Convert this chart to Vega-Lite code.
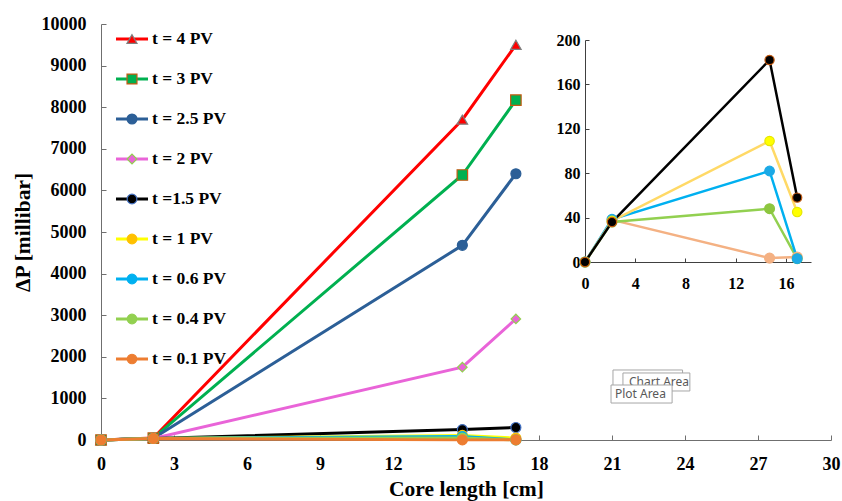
{
  "$schema": "https://vega.github.io/schema/vega-lite/v6.json",
  "width": 730,
  "height": 416,
  "autosize": "none",
  "padding": {"left": 101, "top": 24, "right": 11, "bottom": 61},
  "background": "white",
  "config": {"view": {"stroke": null}, "axis": {"grid": false}, "font": "Liberation Serif"},
  "datasets": {
    "main": [
      {"series": "t = 4 PV", "x": 0, "y": 0}, {"series": "t = 4 PV", "x": 2.15, "y": 50}, {"series": "t = 4 PV", "x": 14.85, "y": 7700}, {"series": "t = 4 PV", "x": 17.05, "y": 9500},
      {"series": "t = 3 PV", "x": 0, "y": 0}, {"series": "t = 3 PV", "x": 2.15, "y": 45}, {"series": "t = 3 PV", "x": 14.85, "y": 6370}, {"series": "t = 3 PV", "x": 17.05, "y": 8170},
      {"series": "t = 2.5 PV", "x": 0, "y": 0}, {"series": "t = 2.5 PV", "x": 2.15, "y": 40}, {"series": "t = 2.5 PV", "x": 14.85, "y": 4680}, {"series": "t = 2.5 PV", "x": 17.05, "y": 6400},
      {"series": "t = 2 PV", "x": 0, "y": 0}, {"series": "t = 2 PV", "x": 2.15, "y": 38}, {"series": "t = 2 PV", "x": 14.85, "y": 1750}, {"series": "t = 2 PV", "x": 17.05, "y": 2910},
      {"series": "t =1.5 PV", "x": 0, "y": 0}, {"series": "t =1.5 PV", "x": 2.15, "y": 36}, {"series": "t =1.5 PV", "x": 14.85, "y": 250}, {"series": "t =1.5 PV", "x": 17.05, "y": 300},
      {"series": "t = 1 PV", "x": 0, "y": 0}, {"series": "t = 1 PV", "x": 2.15, "y": 37}, {"series": "t = 1 PV", "x": 14.85, "y": 109}, {"series": "t = 1 PV", "x": 17.05, "y": 45},
      {"series": "t = 0.6 PV", "x": 0, "y": 0}, {"series": "t = 0.6 PV", "x": 2.15, "y": 38}, {"series": "t = 0.6 PV", "x": 14.85, "y": 82}, {"series": "t = 0.6 PV", "x": 17.05, "y": 3},
      {"series": "t = 0.4 PV", "x": 0, "y": 0}, {"series": "t = 0.4 PV", "x": 2.15, "y": 36}, {"series": "t = 0.4 PV", "x": 14.85, "y": 48}, {"series": "t = 0.4 PV", "x": 17.05, "y": 3},
      {"series": "t = 0.1 PV", "x": 0, "y": 0}, {"series": "t = 0.1 PV", "x": 2.15, "y": 38}, {"series": "t = 0.1 PV", "x": 14.85, "y": 3}, {"series": "t = 0.1 PV", "x": 17.05, "y": 4}
    ],
    "legendItems": [
      {"series": "t = 4 PV"}, {"series": "t = 3 PV"}, {"series": "t = 2.5 PV"}, {"series": "t = 2 PV"}, {"series": "t =1.5 PV"},
      {"series": "t = 1 PV"}, {"series": "t = 0.6 PV"}, {"series": "t = 0.4 PV"}, {"series": "t = 0.1 PV"}
    ],
    "inset": [
      {"series": "0.1", "x": 0, "y": 0}, {"series": "0.1", "x": 2.15, "y": 38}, {"series": "0.1", "x": 14.7, "y": 3.5}, {"series": "0.1", "x": 16.9, "y": 4.5},
      {"series": "0.4", "x": 0, "y": 0}, {"series": "0.4", "x": 2.15, "y": 36}, {"series": "0.4", "x": 14.7, "y": 48}, {"series": "0.4", "x": 16.9, "y": 3},
      {"series": "0.6", "x": 0, "y": 0}, {"series": "0.6", "x": 2.15, "y": 38.5}, {"series": "0.6", "x": 14.7, "y": 82}, {"series": "0.6", "x": 16.9, "y": 3},
      {"series": "1", "x": 0, "y": 0}, {"series": "1", "x": 2.15, "y": 37}, {"series": "1", "x": 14.7, "y": 109}, {"series": "1", "x": 16.9, "y": 45},
      {"series": "1.5", "x": 0, "y": 0}, {"series": "1.5", "x": 2.15, "y": 36}, {"series": "1.5", "x": 14.7, "y": 182}, {"series": "1.5", "x": 16.9, "y": 58}
    ],
    "boxesBack": [{"x": 21.04, "xe": 23.9, "y": 1250, "ye": 1683}, {"x": 21.45, "xe": 24.2, "y": 1178, "ye": 1611}],
    "labelBack": [{"x": 21.7, "y": 1405, "label": "Chart Area"}],
    "boxFront": [{"x": 20.96, "xe": 23.47, "y": 889, "ye": 1322}],
    "labelFront": [{"x": 21.12, "y": 1110, "label": "Plot Area"}]
  },
  "layer": [
    {
      "data": {"name": "main"},
      "mark": {"type": "line", "strokeWidth": 3},
      "encoding": {
        "x": {"field": "x", "type": "quantitative",
          "scale": {"domain": [0, 30], "nice": false, "zero": false},
          "axis": {"orient": "bottom", "values": [0, 3, 6, 9, 12, 15, 18, 21, 24, 27, 30], "tickSize": -5, "labelPadding": 20,
            "labelFont": "Liberation Serif", "labelFontSize": 18, "labelFontWeight": "bold", "labelColor": "#000000",
            "domainColor": "#6F6F6F", "tickColor": "#6F6F6F", "labelFlush": false, "labelOverlap": false,
            "title": "Core length [cm]", "titleFont": "Liberation Serif", "titleFontSize": 21.5, "titleFontWeight": "bold", "titleColor": "#000000", "titlePadding": 5}},
        "y": {"field": "y", "type": "quantitative",
          "scale": {"domain": [0, 10000], "nice": false},
          "axis": {"orient": "left", "values": [0, 1000, 2000, 3000, 4000, 5000, 6000, 7000, 8000, 9000, 10000], "format": "d", "tickSize": -5, "labelPadding": 20,
            "labelFont": "Liberation Serif", "labelFontSize": 18, "labelFontWeight": "bold", "labelColor": "#000000",
            "domainColor": "#6F6F6F", "tickColor": "#6F6F6F", "labelFlush": false, "labelOverlap": false,
            "title": "ΔP [millibar]", "titleFont": "Liberation Serif", "titleFontSize": 21.5, "titleFontWeight": "bold", "titleColor": "#000000", "titlePadding": 7}},
        "color": {"field": "series", "type": "nominal",
          "scale": {"domain": ["t = 4 PV", "t = 3 PV", "t = 2.5 PV", "t = 2 PV", "t =1.5 PV", "t = 1 PV", "t = 0.6 PV", "t = 0.4 PV", "t = 0.1 PV"],
            "range": ["#FF0000", "#00B050", "#2C5F97", "#E964D8", "#000000", "#FFFF00", "#00B0F0", "#92D050", "#ED7D31"]},
          "legend": null}
      }
    },
    {
      "data": {"name": "main"},
      "transform": [{"filter": "datum.series === 't = 4 PV'"}],
      "mark": {"type": "point", "shape": "triangle-up", "filled": true, "size": 110, "fill": "#FF0000", "stroke": "#7F7F7F", "strokeWidth": 1.2, "opacity": 1},
      "encoding": {
        "x": {"field": "x", "type": "quantitative", "scale": {"domain": [0, 30], "nice": false, "zero": false}, "axis": null},
        "y": {"field": "y", "type": "quantitative", "scale": {"domain": [0, 10000], "nice": false}, "axis": null}
      }
    },
    {
      "data": {"name": "main"},
      "transform": [{"filter": "datum.series === 't = 3 PV'"}],
      "mark": {"type": "point", "shape": "square", "filled": true, "size": 110, "fill": "#00B050", "stroke": "#C55A11", "strokeWidth": 1.2, "opacity": 1},
      "encoding": {
        "x": {"field": "x", "type": "quantitative", "scale": {"domain": [0, 30], "nice": false, "zero": false}, "axis": null},
        "y": {"field": "y", "type": "quantitative", "scale": {"domain": [0, 10000], "nice": false}, "axis": null}
      }
    },
    {
      "data": {"name": "main"},
      "transform": [{"filter": "datum.series === 't = 2 PV'"}],
      "mark": {"type": "point", "shape": "diamond", "filled": true, "size": 90, "fill": "#E964D8", "stroke": "#92D050", "strokeWidth": 1.2, "opacity": 1},
      "encoding": {
        "x": {"field": "x", "type": "quantitative", "scale": {"domain": [0, 30], "nice": false, "zero": false}, "axis": null},
        "y": {"field": "y", "type": "quantitative", "scale": {"domain": [0, 10000], "nice": false}, "axis": null}
      }
    },
    {
      "data": {"name": "main"},
      "transform": [{"filter": "datum.series !== 't = 4 PV' && datum.series !== 't = 3 PV' && datum.series !== 't = 2 PV'"}],
      "mark": {"type": "point", "shape": "circle", "filled": true, "size": 100, "strokeWidth": 1.2, "opacity": 1},
      "encoding": {
        "x": {"field": "x", "type": "quantitative", "scale": {"domain": [0, 30], "nice": false, "zero": false}, "axis": null},
        "y": {"field": "y", "type": "quantitative", "scale": {"domain": [0, 10000], "nice": false}, "axis": null},
        "color": {"field": "series", "type": "nominal",
          "scale": {"domain": ["t = 2.5 PV", "t =1.5 PV", "t = 1 PV", "t = 0.6 PV", "t = 0.4 PV", "t = 0.1 PV"],
            "range": ["#2C5F97", "#000000", "#FFC000", "#00B0F0", "#92D050", "#ED7D31"]},
          "legend": null},
        "stroke": {"field": "series", "type": "nominal",
          "scale": {"domain": ["t = 2.5 PV", "t =1.5 PV", "t = 1 PV", "t = 0.6 PV", "t = 0.4 PV", "t = 0.1 PV"],
            "range": ["#2C5F97", "#4472C4", "#FFC000", "#00B0F0", "#92D050", "#ED7D31"]},
          "legend": null}
      }
    },
    {
      "data": {"name": "legendItems"},
      "mark": {"type": "rule", "strokeWidth": 3},
      "encoding": {
        "x": {"datum": 0, "type": "quantitative", "scale": {"domain": [0, 1], "range": [15, 47], "nice": false, "zero": false}, "axis": null},
        "x2": {"datum": 1},
        "y": {"field": "series", "type": "nominal", "sort": null,
          "scale": {"type": "point", "domain": ["t = 4 PV", "t = 3 PV", "t = 2.5 PV", "t = 2 PV", "t =1.5 PV", "t = 1 PV", "t = 0.6 PV", "t = 0.4 PV", "t = 0.1 PV"], "range": [15, 335], "padding": 0},
          "axis": null},
        "color": {"field": "series", "type": "nominal",
          "scale": {"domain": ["t = 4 PV", "t = 3 PV", "t = 2.5 PV", "t = 2 PV", "t =1.5 PV", "t = 1 PV", "t = 0.6 PV", "t = 0.4 PV", "t = 0.1 PV"],
            "range": ["#FF0000", "#00B050", "#2C5F97", "#E964D8", "#000000", "#FFFF00", "#00B0F0", "#92D050", "#ED7D31"]},
          "legend": null}
      }
    },
    {
      "data": {"name": "legendItems"},
      "mark": {"type": "point", "filled": true, "opacity": 1, "strokeWidth": 1.2},
      "encoding": {
        "x": {"datum": 0.5, "type": "quantitative", "scale": {"domain": [0, 1], "range": [15, 47], "nice": false, "zero": false}, "axis": null},
        "y": {"field": "series", "type": "nominal", "sort": null,
          "scale": {"type": "point", "domain": ["t = 4 PV", "t = 3 PV", "t = 2.5 PV", "t = 2 PV", "t =1.5 PV", "t = 1 PV", "t = 0.6 PV", "t = 0.4 PV", "t = 0.1 PV"], "range": [15, 335], "padding": 0},
          "axis": null},
        "color": {"field": "series", "type": "nominal",
          "scale": {"domain": ["t = 4 PV", "t = 3 PV", "t = 2.5 PV", "t = 2 PV", "t =1.5 PV", "t = 1 PV", "t = 0.6 PV", "t = 0.4 PV", "t = 0.1 PV"],
            "range": ["#FF0000", "#00B050", "#2C5F97", "#E964D8", "#000000", "#FFC000", "#00B0F0", "#92D050", "#ED7D31"]},
          "legend": null},
        "stroke": {"field": "series", "type": "nominal",
          "scale": {"domain": ["t = 4 PV", "t = 3 PV", "t = 2.5 PV", "t = 2 PV", "t =1.5 PV", "t = 1 PV", "t = 0.6 PV", "t = 0.4 PV", "t = 0.1 PV"],
            "range": ["#7F7F7F", "#C55A11", "#2C5F97", "#92D050", "#4472C4", "#FFC000", "#00B0F0", "#92D050", "#ED7D31"]},
          "legend": null},
        "shape": {"field": "series", "type": "nominal",
          "scale": {"domain": ["t = 4 PV", "t = 3 PV", "t = 2.5 PV", "t = 2 PV", "t =1.5 PV", "t = 1 PV", "t = 0.6 PV", "t = 0.4 PV", "t = 0.1 PV"],
            "range": ["triangle-up", "square", "circle", "diamond", "circle", "circle", "circle", "circle", "circle"]},
          "legend": null},
        "size": {"field": "series", "type": "nominal",
          "scale": {"domain": ["t = 4 PV", "t = 3 PV", "t = 2.5 PV", "t = 2 PV", "t =1.5 PV", "t = 1 PV", "t = 0.6 PV", "t = 0.4 PV", "t = 0.1 PV"],
            "range": [100, 90, 100, 70, 60, 100, 100, 100, 100]},
          "legend": null}
      }
    },
    {
      "data": {"name": "legendItems"},
      "mark": {"type": "text", "align": "left", "baseline": "middle", "dx": 4, "font": "Liberation Serif", "fontSize": 17.5, "fontWeight": "bold", "color": "#000000"},
      "encoding": {
        "x": {"datum": 1, "type": "quantitative", "scale": {"domain": [0, 1], "range": [15, 47], "nice": false, "zero": false}, "axis": null},
        "y": {"field": "series", "type": "nominal", "sort": null,
          "scale": {"type": "point", "domain": ["t = 4 PV", "t = 3 PV", "t = 2.5 PV", "t = 2 PV", "t =1.5 PV", "t = 1 PV", "t = 0.6 PV", "t = 0.4 PV", "t = 0.1 PV"], "range": [15, 335], "padding": 0},
          "axis": null},
        "text": {"field": "series"}
      }
    },
    {
      "data": {"name": "boxesBack"},
      "mark": {"type": "rect", "fill": "#FFFFFF", "stroke": "#A6A6A6", "strokeWidth": 1},
      "encoding": {
        "x": {"field": "x", "type": "quantitative", "axis": null, "scale": {"domain": [0, 30], "nice": false, "zero": false}},
        "x2": {"field": "xe"},
        "y": {"field": "y", "type": "quantitative", "axis": null, "scale": {"domain": [0, 10000], "nice": false}},
        "y2": {"field": "ye"}
      }
    },
    {
      "data": {"name": "labelBack"},
      "mark": {"type": "text", "align": "left", "baseline": "middle", "font": "Noto Sans", "fontSize": 12, "color": "#595959"},
      "encoding": {
        "x": {"field": "x", "type": "quantitative", "axis": null, "scale": {"domain": [0, 30], "nice": false, "zero": false}},
        "y": {"field": "y", "type": "quantitative", "axis": null, "scale": {"domain": [0, 10000], "nice": false}},
        "text": {"field": "label"}
      }
    },
    {
      "data": {"name": "boxFront"},
      "mark": {"type": "rect", "fill": "#FFFFFF", "stroke": "#A6A6A6", "strokeWidth": 1},
      "encoding": {
        "x": {"field": "x", "type": "quantitative", "axis": null, "scale": {"domain": [0, 30], "nice": false, "zero": false}},
        "x2": {"field": "xe"},
        "y": {"field": "y", "type": "quantitative", "axis": null, "scale": {"domain": [0, 10000], "nice": false}},
        "y2": {"field": "ye"}
      }
    },
    {
      "data": {"name": "labelFront"},
      "mark": {"type": "text", "align": "left", "baseline": "middle", "font": "Noto Sans", "fontSize": 12, "color": "#595959"},
      "encoding": {
        "x": {"field": "x", "type": "quantitative", "axis": null, "scale": {"domain": [0, 30], "nice": false, "zero": false}},
        "y": {"field": "y", "type": "quantitative", "axis": null, "scale": {"domain": [0, 10000], "nice": false}},
        "text": {"field": "label"}
      }
    },
    {
      "data": {"name": "inset"},
      "mark": {"type": "line", "strokeWidth": 2.5},
      "encoding": {
        "x": {"field": "x", "type": "quantitative",
          "scale": {"domain": [0, 18], "range": [484, 710], "nice": false, "zero": false},
          "axis": {"orient": "bottom", "offset": -178, "values": [0, 4, 8, 12, 16], "title": null, "tickSize": -4, "labelPadding": 17,
            "labelFont": "Liberation Serif", "labelFontSize": 16, "labelFontWeight": "bold", "labelColor": "#000000",
            "domainColor": "#404040", "tickColor": "#404040", "labelFlush": false, "labelOverlap": false}},
        "y": {"field": "y", "type": "quantitative",
          "scale": {"domain": [0, 200], "range": [238, 16], "nice": false},
          "axis": {"orient": "left", "offset": -484, "values": [0, 40, 80, 120, 160, 200], "title": null, "tickSize": -4, "labelPadding": 9,
            "labelFont": "Liberation Serif", "labelFontSize": 16, "labelFontWeight": "bold", "labelColor": "#000000",
            "domainColor": "#404040", "tickColor": "#404040", "labelFlush": false, "labelOverlap": false}},
        "color": {"field": "series", "type": "nominal",
          "scale": {"domain": ["0.1", "0.4", "0.6", "1", "1.5"], "range": ["#F4B183", "#92D050", "#00B0F0", "#FFD966", "#000000"]},
          "legend": null}
      }
    },
    {
      "data": {"name": "inset"},
      "mark": {"type": "point", "filled": true, "opacity": 1, "strokeWidth": 1.2},
      "encoding": {
        "x": {"field": "x", "type": "quantitative", "scale": {"domain": [0, 18], "range": [484, 710], "nice": false, "zero": false}, "axis": null},
        "y": {"field": "y", "type": "quantitative", "scale": {"domain": [0, 200], "range": [238, 16], "nice": false}, "axis": null},
        "color": {"field": "series", "type": "nominal",
          "scale": {"domain": ["0.1", "0.4", "0.6", "1", "1.5"], "range": ["#F4B183", "#8DC63F", "#1CA9E6", "#FFFF00", "#000000"]},
          "legend": null},
        "stroke": {"field": "series", "type": "nominal",
          "scale": {"domain": ["0.1", "0.4", "0.6", "1", "1.5"], "range": ["#F4B183", "#8DC63F", "#1CA9E6", "#E6E600", "#C55A11"]},
          "legend": null},
        "size": {"field": "series", "type": "nominal",
          "scale": {"domain": ["0.1", "0.4", "0.6", "1", "1.5"], "range": [100, 85, 95, 70, 50]},
          "legend": null}
      }
    }
  ],
  "resolve": {
    "scale": {"x": "independent", "y": "independent", "color": "independent", "stroke": "independent", "shape": "independent", "size": "independent"},
    "axis": {"x": "independent", "y": "independent"},
    "legend": {"color": "independent", "stroke": "independent", "shape": "independent", "size": "independent"}
  }
}
